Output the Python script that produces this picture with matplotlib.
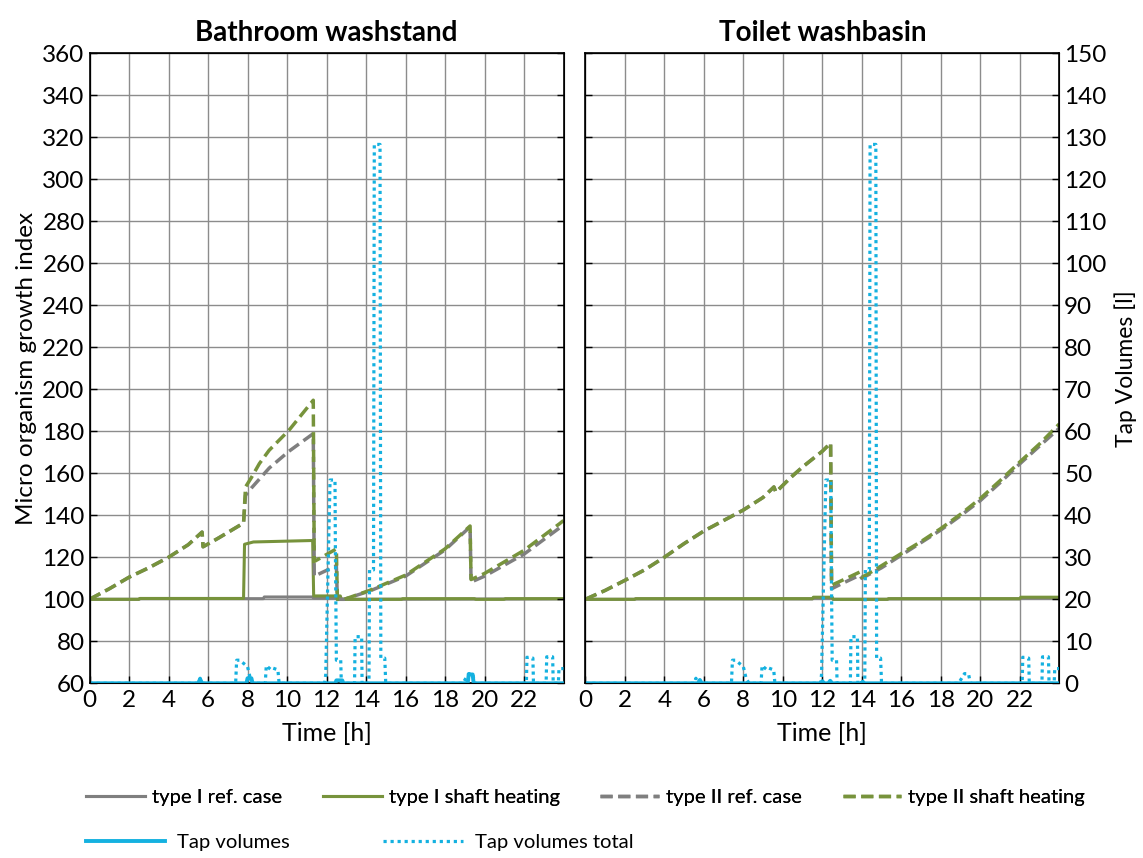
import numpy as np
import matplotlib
matplotlib.use("Agg")
import matplotlib.pyplot as plt

plt.rcParams['font.family'] = ['Lato', 'DejaVu Sans']

# colours
grey = '#7f7f7f'
green = '#77933c'
cyan = '#14b1e0'

# ---- Bathroom washstand (left panel) ----
bath_I_ref_t = [0, 2.5, 2.55, 8.8, 8.85, 11.3, 11.35, 12.7, 12.75, 24]
bath_I_ref_v = [100, 100, 100.3, 100.3, 101.1, 101.1, 100.6, 100.6, 100, 100.2]

bath_I_heat_t = [0, 2.5, 2.55, 7.8, 7.85, 8.3, 11.3, 11.35, 12.7, 12.75, 15.8, 15.85,
                 19.5, 19.55, 21.0, 21.05, 24]
bath_I_heat_v = [100, 100, 100.4, 100.4, 126.2, 127.3, 128, 101.6, 101.6, 100, 100, 100.3,
                 100.3, 100, 100, 100.3, 100.3]

bath_II_ref_t = [0, 1, 2, 3, 4, 5, 5.7, 5.75, 6.5, 7.8, 7.9, 8.2, 9.1, 10.1, 11.33, 11.38,
                 12.5, 12.55, 12.9, 14.2, 16, 18, 19.27, 19.32, 20, 22, 23.8, 24]
bath_II_ref_v = [100, 105, 110.5, 115, 120, 126, 132, 125, 129, 136.3, 149.5, 153, 162.5, 170.5,
                 178.9, 111, 116, 100, 100, 104, 111, 123.5, 134.5, 108.2, 111, 121.5, 134, 135]

bath_II_heat_t = [0, 1, 2, 3, 4, 5, 5.7, 5.75, 6.5, 7.8, 7.9, 8.2, 8.6, 9.1, 10.1, 11.33, 11.38,
                  12.5, 12.55, 12.9, 14.2, 16, 18, 19.27, 19.32, 20, 22, 23.8, 24]
bath_II_heat_v = [100, 105, 110.5, 115, 120, 126, 132, 125, 129, 136.3, 153.5, 158, 164.6, 171,
                  180.5, 194.8, 118, 124, 100, 100, 104.3, 111.5, 124, 134.9, 109.4, 112.3, 123.3,
                  136, 137.5]

bath_tap_t = [0, 5.5, 5.6, 5.7, 7.95, 8.0, 8.2, 8.25, 12.45, 12.5, 12.8, 12.85,
              19.15, 19.2, 19.4, 19.45, 24]
bath_tap_v = [0, 0, 1, 0, 0, 1.2, 1.2, 0, 0, 0.7, 0.7, 0,
              0, 2.1, 2.1, 0, 0]

# ---- Toilet washbasin (right panel) ----
toil_I_ref_t = [0, 2.5, 2.55, 11.5, 11.55, 12.5, 12.55, 15.3, 15.35, 22, 22.05, 24]
toil_I_ref_v = [100, 100, 100.2, 100.2, 100.7, 100.7, 100, 100, 100.2, 100.2, 100.7, 100.7]

toil_I_heat_t = [0, 2.5, 2.55, 11.5, 11.55, 12.5, 12.55, 15.3, 15.35, 22, 22.05, 24]
toil_I_heat_v = [100, 100, 100.3, 100.3, 101, 101, 100, 100, 100.3, 100.3, 101, 101]

toil_II_ref_t = [0, 1, 2, 3, 4, 5, 6, 7, 8, 9, 9.55, 9.65, 10.4, 11, 12, 12.42, 12.47, 13,
                 13.9, 14.0, 14.3, 15, 16, 17, 18, 19, 20, 21, 22, 23, 24]
toil_II_ref_v = [100, 104.2, 109, 114, 120, 126.5, 132.5, 137.5, 142.5, 148.5, 153.5, 151, 158,
                 163, 170.5, 174.4, 105, 107.5, 111.5, 110, 111.5, 115, 121, 127, 133, 139.8,
                 147, 155.5, 164.5, 173, 181.5]

toil_II_heat_t = [0, 1, 2, 3, 4, 5, 6, 7, 8, 9, 9.55, 9.65, 10.4, 11, 12, 12.42, 12.47, 13,
                  13.9, 14.0, 14.3, 15, 16, 17, 18, 19, 20, 21, 22, 23, 24]
toil_II_heat_v = [100, 104.2, 109, 114, 120, 126.5, 132.5, 137.5, 142.5, 148.5, 153.5, 151, 158,
                  163, 170.5, 174.4, 106.7, 109, 113, 110.5, 112, 116, 121.8, 127.5, 133.7, 140.5,
                  148, 156.5, 165.4, 174, 183.5]

toil_tap_t = [0, 5.7, 5.8, 5.9, 11.9, 12.0, 12.1, 12.3, 12.4, 12.5, 14.0, 14.05, 14.1, 24]
toil_tap_v = [0, 0, 0.8, 0, 0, 0.5, 0, 0, 0.6, 0, 0, 0.4, 0, 0]

# tap volumes total (same for both)
tap_total_t = [0, 5.5, 5.6, 5.7, 7.4, 7.45, 7.6, 8.0, 8.15, 8.3, 8.9, 8.95, 9.2, 9.3, 9.54, 9.6,
               11.9, 11.96, 12.18, 12.43, 12.45, 12.5, 12.72, 12.75, 13.42, 13.45, 13.78, 13.8,
               14.15, 14.18, 14.38, 14.42, 14.71, 14.75, 14.95, 15.0, 18.9, 19.2, 19.4, 19.5,
               22.12, 22.15, 22.45, 22.48, 23.12, 23.15, 23.45, 23.48, 23.74, 23.77, 24]
tap_total_v = [0, 0, 1.2, 0, 0, 5.5, 5.5, 4, 1, 0, 0, 4.2, 3.2, 3.6, 3.2, 0,
               0, 2, 48.4, 48.4, 32, 5.5, 5.5, 0, 0, 11.1, 11.1, 0,
               0, 27, 27, 128.3, 128.3, 6, 6, 0, 0, 2.3, 2.3, 0,
               0, 6.2, 6.0, 0, 0, 6.3, 6.3, 0, 0, 3.5, 3.5]

xticks = list(range(0, 24, 2))
yticks = list(range(60, 361, 20))
y2ticks = list(range(0, 151, 10))

fig = plt.figure(figsize=(11.43, 8.58), dpi=100)
axL = fig.add_axes([89.5 / 1143, 1 - 683.3 / 858, 474 / 1143, 630 / 858])
axR = fig.add_axes([585.3 / 1143, 1 - 683.3 / 858, 474 / 1143, 630 / 858])

panels = [
    (axL, 'Bathroom washstand', bath_I_ref_t, bath_I_ref_v, bath_I_heat_t, bath_I_heat_v,
     bath_II_ref_t, bath_II_ref_v, bath_II_heat_t, bath_II_heat_v, bath_tap_t, bath_tap_v),
    (axR, 'Toilet washbasin', toil_I_ref_t, toil_I_ref_v, toil_I_heat_t, toil_I_heat_v,
     toil_II_ref_t, toil_II_ref_v, toil_II_heat_t, toil_II_heat_v, toil_tap_t, toil_tap_v),
]

handles = {}
for i, (ax, title, t1r, v1r, t1h, v1h, t2r, v2r, t2h, v2h, tt, tv) in enumerate(panels):
    ax.set_xlim(0, 24)
    ax.set_ylim(60, 360)
    ax.set_xticks(xticks)
    ax.set_yticks(yticks)
    ax.grid(True, color='#8c8c8c', lw=1)
    ax.set_axisbelow(True)
    ax.tick_params(direction='in', length=5, labelsize=17.5, width=1, colors='black')
    ax.tick_params(axis='x', pad=5)
    ax.set_title(title, fontsize=20, fontweight='bold', pad=9)
    ax.set_xlabel('Time [h]', fontsize=18, labelpad=8)
    for s in ax.spines.values():
        s.set_linewidth(1.2)

    l1, = ax.plot(t1r, v1r, color=grey, lw=2.2)
    l2, = ax.plot(t1h, v1h, color=green, lw=2.2)
    l3, = ax.plot(t2r, v2r, color=grey, lw=2.5, ls=(0, (3.5, 1.6)))
    l4, = ax.plot(t2h, v2h, color=green, lw=2.5, ls=(0, (3.5, 1.6)))

    ax2 = ax.twinx()
    ax2.set_ylim(0, 150)
    ax2.set_yticks(y2ticks)
    ax2.tick_params(direction='in', length=5, labelsize=17.5, width=1)
    l6, = ax2.plot(tap_total_t, tap_total_v, color=cyan, lw=2.3, ls=(0, (1, 1.2)))
    l5, = ax2.plot(tt, tv, color=cyan, lw=2.8)
    if i == 0:
        ax.set_ylabel('Micro organism growth index', fontsize=17.5, labelpad=4)
        ax2.tick_params(labelright=False)
        handles = [l1, l2, l3, l4, l5, l6]
    else:
        ax.tick_params(labelleft=False)
        ax2.set_ylabel('Tap Volumes [l]', fontsize=16.5, labelpad=6)

labels = ['type I ref. case', 'type I shaft heating', 'type II ref. case',
          'type II shaft heating', 'Tap volumes', 'Tap volumes total']

leg1 = fig.legend(handles[:4], labels[:4], ncol=4, frameon=False, fontsize=14.6,
                  loc='center left', bbox_to_anchor=(76 / 1143, 1 - 797 / 858),
                  borderpad=0, handlelength=2.9, handletextpad=0.35, columnspacing=2.0)
fig.add_artist(leg1)
fig.legend(handles[4:], labels[4:], ncol=2, frameon=False, fontsize=14.6,
           loc='center left', bbox_to_anchor=(76 / 1143, 1 - 842 / 858),
           borderpad=0, handlelength=3.9, handletextpad=0.6, columnspacing=4.6)

fig.savefig('out.png', dpi=100)
